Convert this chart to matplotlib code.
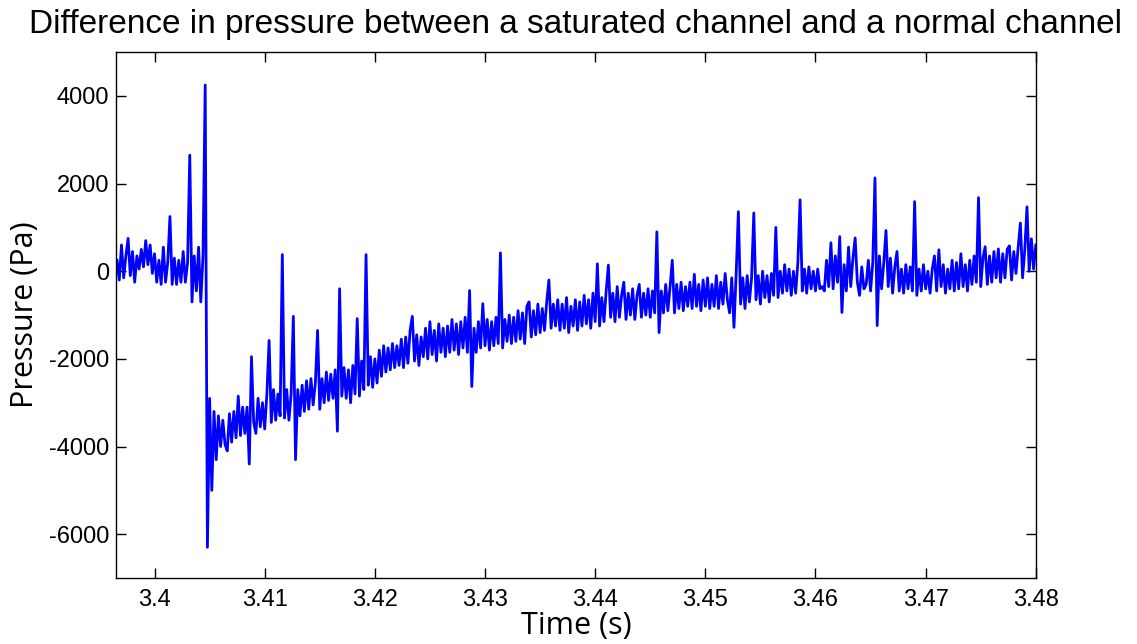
import matplotlib
matplotlib.use("Agg")
import matplotlib.pyplot as plt
import numpy as np

plt.rcParams["axes.unicode_minus"] = False

t_start = 3.3966
dt = 0.0002
pressure = [
    250, -200, 600, -150, 350, 750, -100, 450, -250, 350,
    50, 500, 100, 700, 150, 600, -50, 400, -250, 250,
    -300, 550, -250, 200, 1250, -300, 300, -300, 250, -250,
    450, -250, 200, 2650, -700, 350, -450, 550, -700, 350,
    4250, -6300, -2900, -5000, -3200, -4300, -3300, -4000, -3400, -3950,
    -4100, -3250, -3900, -3200, -3800, -2850, -3750, -3100, -3700, -3100,
    -4400, -1950, -3450, -3700, -2900, -3550, -3000, -3600, -2800, -1580,
    -3450, -2700, -3400, -2800, -3300, 380, -3350, -2700, -3400, -2800,
    -1030, -4300, -2700, -3300, -2600, -3200, -2500, -3150, -2450, -3050,
    -2550, -1350, -3150, -2450, -3000, -2300, -2950, -2350, -2900, -2250,
    -3650, -400, -2850, -2200, -2900, -2250, -3000, -2150, -2800, -1080,
    -2850, -2050, -2700, 380, -2600, -1950, -2650, -2000, -2550, -1800,
    -2400, -1700, -2300, -1750, -2250, -1650, -2200, -1700, -2150, -1550,
    -2200, -1500, -2100, -1350, -1030, -2050, -1450, -2150, -1500, -1950,
    -1300, -2000, -1150, -1900, -1350, -2050, -1200, -1850, -1300, -1950,
    -1250, -1850, -1100, -1800, -1200, -1900, -1150, -1750, -1050, -1850,
    -440, -2630, -1300, -1850, -1150, -1750, -740, -1700, -1100, -1800,
    -1150, -1700, -1050, -1650, 420, -1750, -1100, -1600, -1000, -1650,
    -1050, -1600, -900, -1550, -950, -1650, -800, -700, -1500, -900,
    -1450, -750, -1400, -850, -1350, -700, -200, -1300, -750, -1250,
    -650, -1350, -750, -1300, -600, -1400, -800, -1250, -650, -1350,
    -700, -1250, -550, -1200, -650, -1300, -500, -1150, 170, -1250,
    -600, -1150, -450, 140, -1050, -500, -1150, -350, -1050, -550,
    -250, -1100, -500, -1000, -400, -1100, -550, -300, -1050, -500,
    -1000, -400, -1050, -450, -950, 900, -1400, -450, -950, -300,
    -900, -350, 250, -950, -300, -850, -250, -900, -350, -800,
    -250, -850, -70, -800, -300, -900, -200, -800, -150, -850,
    -300, -800, -100, -850, -250, -750, -50, -650, -950, -150,
    -1280, -50, 1360, -750, -150, -850, -100, -700, -150, 1330,
    -650, -100, -750, 0, -600, -100, -700, -50, -550, 1000,
    -600, 0, -500, 150, -450, 50, -550, 0, -500, 200,
    1630, -450, 50, -500, 100, -400, 0, -450, 50, -400,
    -350, -450, 250, -350, 650, -400, 350, -250, 790, -940,
    150, -450, 550, -350, 300, 760, -250, -550, 100, -400,
    -300, 250, -450, 200, 2130, -1240, 350, -400, 200, 930,
    -350, 300, -500, 100, 450, -450, 50, -500, 150, -400,
    100, -450, 1590, -550, 50, -450, 150, -400, 0, -500,
    50, 350, -450, 490, -350, 150, -500, 50, -400, 250,
    -450, 200, -400, 400, -350, 150, -450, 250, -300, 350,
    -250, 1680, -350, 300, 560, -300, 350, -250, 450, -150,
    510, -250, 400, -150, 500, 580, -200, 450, -50, 550,
    1100, -150, 500, 1470, 0, 740, 50, 600,
]

x_ticks = [3.40, 3.41, 3.42, 3.43, 3.44, 3.45, 3.46, 3.47, 3.48]
x_tick_labels = ["3.4", "3.41", "3.42", "3.43", "3.44", "3.45", "3.46", "3.47", "3.48"]
y_ticks = [-6000, -4000, -2000, 0, 2000, 4000]

tiempo = t_start + dt * np.arange(len(pressure))

fig = plt.figure(figsize=(11.37, 6.44), dpi=100)
ax = fig.add_axes([0.102, 0.1025, 0.809, 0.8165])

ax.plot(tiempo, pressure, color="#0000ff", linewidth=2.0)

ax.set_xlim(3.3965, 3.48)
ax.set_ylim(-7000, 5000)
ax.set_xticks(x_ticks)
ax.set_xticklabels(x_tick_labels)
ax.set_yticks(y_ticks)

ax.tick_params(direction="in", length=7, width=1, top=True, right=True, labelsize=17)
ax.tick_params(axis="x", pad=8)
ax.tick_params(axis="y", pad=5)
for etiqueta in ax.get_xticklabels() + ax.get_yticklabels():
    etiqueta.set_family("Liberation Sans")
for lado in ax.spines.values():
    lado.set_linewidth(1.0)

ax.set_xlabel("Time (s)", family="Open Sans", fontsize=22, labelpad=0)
ax.set_ylabel("Pressure (Pa)", family="Open Sans", fontsize=22, labelpad=6)
ax.set_title("Difference in pressure between a saturated channel and a normal channel",
             family="Liberation Sans", fontsize=24, pad=14)

fig.savefig("out.png", dpi=100)
